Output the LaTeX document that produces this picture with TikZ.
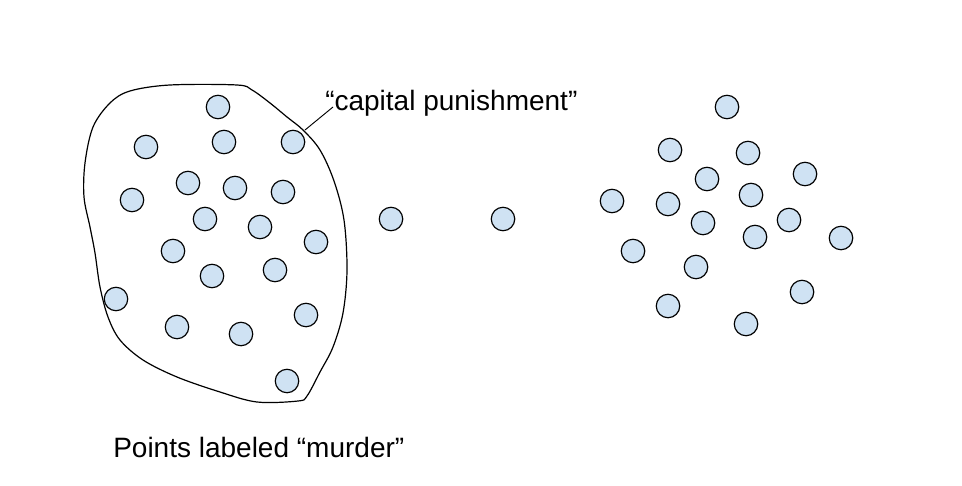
\documentclass[tikz,border=0pt]{standalone}
\usepackage{fontspec}
\setmainfont{Liberation Sans}
\usepackage{tikz}
\definecolor{dotblue}{HTML}{CFE2F3}
\tikzset{
  pt/.style={circle, draw=black, fill=dotblue, line width=0.9pt, minimum size=17.6pt, inner sep=0pt},
  lbl/.style={inner sep=0pt, anchor=base west, font=\fontsize{21}{25}\selectfont}
}

\begin{document}
\begin{tikzpicture}[x=0.75pt, y=-0.75pt]
%%%%% Frame %%%%%
\useasboundingbox (0,0) rectangle (962,485);
%%%%% Points %%%%%
\foreach \x/\y [count=\i] in {218/107,224/142,146/147,293/142,188/183,235/188,283/192,132/200,205/219,260/227,316/242,173/251,212/276,275/270,116/299,306/315,177/327,241/334,287/381}{
\node[pt] (l\i) at (\x,\y) {};
}
\node[pt] (m1) at (391,219) {};
\node[pt] (m2) at (503,219) {};
\foreach \x/\y [count=\i] in {727/107,670/150,748/153,805/174,707/179,612/201,668/204,751/195,703/223,789/220,755/237,841/238,633/251,696/267,668/306,802/292,746/324}{
\node[pt] (r\i) at (\x,\y) {};
}
%%%%% Region %%%%%
\draw[line width=0.9pt] plot[smooth cycle, tension=0.55] coordinates {(237,85) (170,85) (130,91) (110,103) (93,127) (85,163) (84,197) (90,227) (95,253) (100,287) (108,317) (120,340) (143,360) (177,377) (220,392) (257,402) (298,401) (307,396) (320,372) (333,347) (343,313) (347,270) (344,220) (334,181) (320,150) (303,130) (287,117) (270,103) (252,90)};
%%%%% Labels %%%%%
\node[lbl] (capLabel) at (325,110) {“capital punishment”};
\node[lbl] (murderLabel) at (113,457) {Points labeled “murder”};
\coordinate (capEnd) at (333,107);
\coordinate (capTip) at (305,130);
\draw[line width=0.7pt] (capEnd) -- (capTip);
\end{tikzpicture}
\end{document}
